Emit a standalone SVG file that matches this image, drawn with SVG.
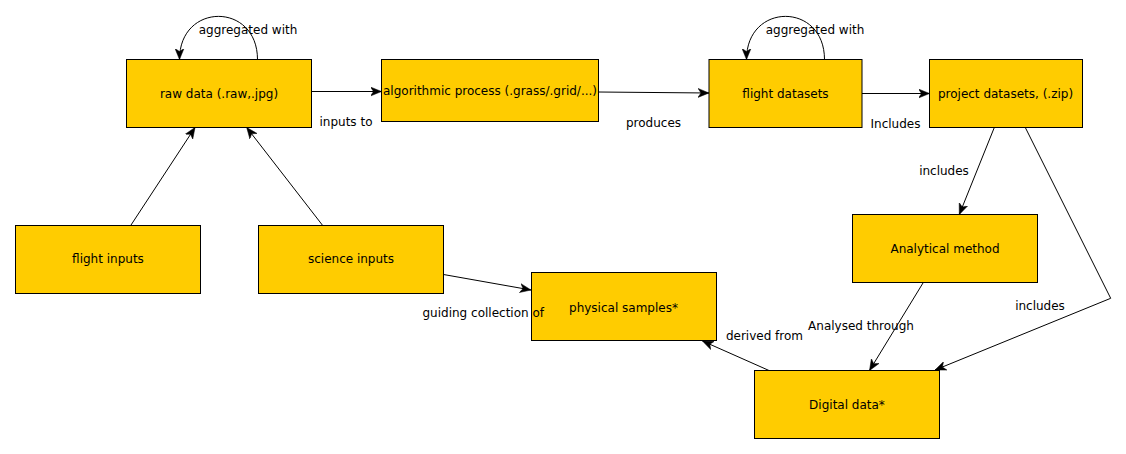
<svg xmlns="http://www.w3.org/2000/svg" width="1126" height="454" viewBox="0 0 1126 454">
<style>
.node rect{fill:#ffcc00;stroke:#000;stroke-width:1}
text{font-family:"DejaVu Sans","Liberation Sans",sans-serif;font-size:12px;fill:#000}
.node text{text-anchor:middle}
.lbl{text-anchor:middle}
.edge{fill:none;stroke:#000;stroke-width:1;marker-end:url(#arr)}
</style>
<defs>
<marker id="arr" markerUnits="userSpaceOnUse" markerWidth="12" markerHeight="10" viewBox="0 0 12 10" refX="11" refY="5" orient="auto">
<path d="M0,0.5 L11,5 L0,9.5 L3,5 Z" fill="#000" stroke="#000" stroke-width="0.5"/>
</marker>
</defs>
<rect width="1126" height="454" fill="#fff"/>
<g id="connectors">
<path class="edge" d="M257.5,59.5 C257.5,2 179.5,2 179.5,59.5"/>
<path class="edge" d="M824.5,59.5 C824.5,2 746.5,2 746.5,59.5"/>
<path class="edge" d="M311.5,91.5 L381.5,91.5"/>
<path class="edge" d="M598.5,92 L709,93"/>
<path class="edge" d="M862,93.5 L929.5,93.5"/>
<path class="edge" d="M130.7,225.5 L195,127.5"/>
<path class="edge" d="M322.7,225.5 L246.7,127.5"/>
<path class="edge" d="M443.5,274.5 L531,290"/>
<path class="edge" d="M994.3,127.5 L959.3,214.5"/>
<path class="edge" d="M1025.3,127.5 L1110.7,298.3 L935,370"/>
<path class="edge" d="M923.3,282.5 L869.5,370.5"/>
<path class="edge" d="M769,370.5 L702.5,341"/>
<text class="lbl" x="248" y="34">aggregated with</text>
<text class="lbl" x="815" y="34">aggregated with</text>
<text class="lbl" x="346" y="126">inputs to</text>
<text class="lbl" x="653.5" y="127">produces</text>
<text class="lbl" x="895.5" y="128">Includes</text>
<text class="lbl" x="944" y="175">includes</text>
<text class="lbl" x="1040" y="310">includes</text>
<text class="lbl" x="861" y="330">Analysed through</text>
<text class="lbl" x="764.5" y="340">derived from</text>
</g>
<g id="raw-data" class="node"><rect x="126.5" y="59.5" width="185" height="68"/><text x="219" y="97.5">raw data (.raw,.jpg)</text></g>
<g id="algorithmic-process" class="node"><rect x="381.5" y="59.5" width="217" height="62"/><text x="490" y="94.5">algorithmic process (.grass/.grid/...)</text></g>
<g id="flight-datasets" class="node"><rect x="709" y="59.5" width="153" height="68"/><text x="785.5" y="97.5">flight datasets</text></g>
<g id="project-datasets" class="node"><rect x="929.5" y="59.5" width="153" height="68"/><text x="1005.5" y="97.5">project datasets, (.zip)</text></g>
<g id="flight-inputs" class="node"><rect x="15.5" y="225.5" width="185" height="68"/><text x="108" y="263">flight inputs</text></g>
<g id="science-inputs" class="node"><rect x="258.5" y="225.5" width="185" height="68"/><text x="351" y="263">science inputs</text></g>
<g id="analytical-method" class="node"><rect x="852.5" y="214.5" width="185" height="68"/><text x="945" y="253">Analytical method</text></g>
<g id="physical-samples" class="node"><rect x="531.5" y="272.5" width="185" height="68"/><text x="623.5" y="311.5">physical samples*</text></g>
<g id="digital-data" class="node"><rect x="754.5" y="370.5" width="185" height="68"/><text x="847" y="409">Digital data*</text></g>
<text x="422.5" y="316.5">guiding collection of</text>
</svg>
